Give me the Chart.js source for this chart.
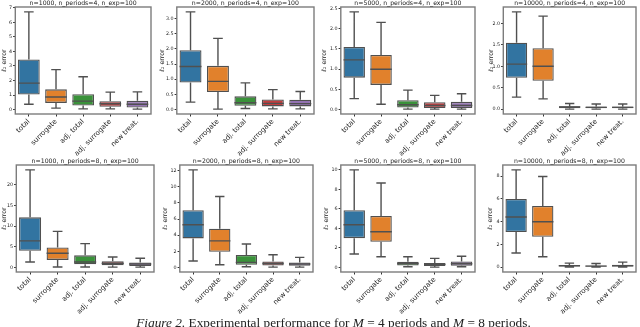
<!DOCTYPE html>
<html lang="en">
<head>
<meta charset="UTF-8">
<title>Experimental performance</title>
<style>
  * { margin: 0; padding: 0; box-sizing: border-box; }
  body { width: 640px; height: 327px; background: #fff; position: relative; overflow: hidden; }
  canvas { position: absolute; }
  #caption {
    position: absolute; left: 0; width: 667px; top: 315px;
    text-align: center; white-space: nowrap;
    font-family: 'Liberation Serif', serif; font-size: 13.3px; color: #222;
  }
</style>
</head>
<body>
<div id="panels"></div>
<div id="caption"><i>Figure 2.</i> Experimental performance for <i>M</i> = 4 periods and <i>M</i> = 8 periods.</div>
<script src="https://cdn.jsdelivr.net/npm/chart.js@4.4.0/dist/chart.umd.min.js"></script>
<script>
const categories = ["total", "surrogate", "adj. total", "adj. surrogate", "new treat."];
const panelTitles = [
  "n=1000, n_periods=4, n_exp=100", "n=2000, n_periods=4, n_exp=100",
  "n=5000, n_periods=4, n_exp=100", "n=10000, n_periods=4, n_exp=100",
  "n=1000, n_periods=8, n_exp=100", "n=2000, n_periods=8, n_exp=100",
  "n=5000, n_periods=8, n_exp=100", "n=10000, n_periods=8, n_exp=100"
];

// box statistics, one row per panel, one column per category
const whiskerLow = [
  [0.37, 0.10, 0.05, 0.05, 0.03],
  [0.25, 0.02, 0.04, 0.03, 0.03],
  [0.27, 0.13, 0.01, 0.01, 0.01],
  [0.28, 0.24, 0.00, 0.00, 0.00],
  [1.3, 0.1, 0.1, 0.05, 0.05],
  [0.8, 0.33, 0.08, 0.04, 0.04],
  [1.38, 1.1, 0.07, 0.03, 0.07],
  [1.24, 0.91, 0.0, 0.0, 0.0]
];
const q1 = [
  [1.04, 0.46, 0.28, 0.19, 0.14],
  [0.89, 0.58, 0.13, 0.11, 0.11],
  [0.79, 0.61, 0.05, 0.04, 0.04],
  [0.73, 0.66, 0.02, 0.02, 0.02],
  [4.0, 1.8, 0.73, 0.5, 0.3],
  [3.6, 1.95, 0.33, 0.25, 0.2],
  [3.0, 2.62, 0.2, 0.14, 0.17],
  [3.09, 2.68, 0.06, 0.05, 0.06]
];
const median = [
  [1.82, 0.86, 0.58, 0.40, 0.37],
  [1.42, 0.93, 0.23, 0.21, 0.20],
  [1.23, 1.00, 0.12, 0.10, 0.10],
  [1.05, 1.00, 0.05, 0.04, 0.04],
  [6.4, 3.4, 1.3, 0.97, 0.8],
  [5.3, 3.3, 0.63, 0.5, 0.42],
  [4.38, 3.66, 0.41, 0.31, 0.38],
  [4.41, 4.0, 0.12, 0.09, 0.12]
];
const q3 = [
  [3.44, 1.39, 1.06, 0.58, 0.60],
  [1.95, 1.44, 0.44, 0.34, 0.33],
  [1.55, 1.35, 0.23, 0.18, 0.19],
  [1.55, 1.42, 0.07, 0.06, 0.06],
  [12.1, 4.8, 2.9, 1.45, 1.2],
  [7.1, 4.8, 1.55, 0.75, 0.63],
  [5.86, 5.28, 0.59, 0.45, 0.62],
  [6.0, 5.38, 0.18, 0.15, 0.2]
];
const whiskerHigh = [
  [6.72, 2.75, 2.26, 1.20, 1.22],
  [3.21, 2.34, 0.88, 0.66, 0.60],
  [2.42, 2.16, 0.48, 0.35, 0.39],
  [2.27, 2.17, 0.13, 0.12, 0.12],
  [23.6, 8.7, 5.75, 2.5, 2.2],
  [12.1, 8.8, 2.9, 1.58, 1.25],
  [10.0, 8.66, 1.1, 0.93, 1.14],
  [8.56, 7.97, 0.35, 0.32, 0.44]
];
const yTickStep = [1, 0.5, 0.5, 0.5, 5, 2, 2, 2];
const yTickDecimals = [0, 1, 1, 1, 0, 0, 0, 0];

const boxColors = ["#3274a1", "#e1812c", "#3a923a", "#c03d3e", "#9372b2"];
const lineColor = "#505050";

// plot area of each panel on the page: y label centre, left, right, top, bottom
const frames = [
  [4.5, 15, 151, 7, 114], [163, 177, 314, 7, 114], [325, 341, 475, 7, 114], [491.5, 503, 636, 7, 114],
  [4.5, 16, 154, 165, 272], [166, 180, 313, 165, 272], [327, 341, 475, 165, 272], [491, 503, 636, 165, 272]
];

Chart.defaults.font.family = "'DejaVu Sans', sans-serif";
Chart.defaults.color = "#222";

function boxPlugin(k) {
  return {
    id: "boxWhiskers" + k,
    afterDatasetsDraw(chart) {
      const ctx = chart.ctx, y = chart.scales.y;
      const bars = chart.getDatasetMeta(0).data;
      ctx.save();
      ctx.strokeStyle = lineColor;
      ctx.lineWidth = 1.4;
      ctx.beginPath();
      bars.forEach((bar, i) => {
        const x = bar.x, half = bar.width / 2, cap = bar.width * 0.22;
        const yLo = y.getPixelForValue(whiskerLow[k][i]);
        const yQ1 = y.getPixelForValue(q1[k][i]);
        const yMed = y.getPixelForValue(median[k][i]);
        const yQ3 = y.getPixelForValue(q3[k][i]);
        const yHi = y.getPixelForValue(whiskerHigh[k][i]);
        ctx.moveTo(x, yQ1); ctx.lineTo(x, yLo);
        ctx.moveTo(x - cap, yLo); ctx.lineTo(x + cap, yLo);
        ctx.moveTo(x, yQ3); ctx.lineTo(x, yHi);
        ctx.moveTo(x - cap, yHi); ctx.lineTo(x + cap, yHi);
        ctx.moveTo(x - half, yMed); ctx.lineTo(x + half, yMed);
      });
      ctx.stroke();
      const a = chart.chartArea;
      ctx.strokeStyle = "#7c7c7c";
      ctx.lineWidth = 1.4;
      ctx.strokeRect(a.left, a.top, a.right - a.left, a.bottom - a.top);
      ctx.fillStyle = "#222";
      ctx.font = "6.2px 'DejaVu Sans'";
      ctx.textAlign = "center";
      ctx.textBaseline = "middle";
      ctx.fillText(panelTitles[k], (a.left + a.right) / 2, a.top - 4);
      ctx.restore();
    }
  };
}

const holder = document.getElementById("panels");
frames.forEach((f, k) => {
  const [labelX, left, right, top, bottom] = f;
  const axisW = left - labelX + 3.8;
  const padTop = 9, padRight = 4, axisH = 46;
  const canvas = document.createElement("canvas");
  const cLeft = left - axisW, cTop = top - padTop;
  canvas.width = Math.round(right + padRight - cLeft);
  canvas.height = Math.round(bottom + axisH - cTop);
  canvas.style.left = cLeft + "px";
  canvas.style.top = cTop + "px";
  holder.appendChild(canvas);

  const lo = Math.min(...whiskerLow[k]), hi = Math.max(...whiskerHigh[k]);
  const pad = (hi - lo) * 0.05;

  new Chart(canvas, {
    type: "bar",
    data: {
      labels: categories,
      datasets: [{
        data: q1[k].map((v, i) => [v, q3[k][i]]),
        backgroundColor: boxColors,
        borderColor: lineColor,
        borderWidth: 1.3,
        borderSkipped: false,
        barPercentage: 0.8,
        categoryPercentage: 1.0
      }]
    },
    plugins: [boxPlugin(k)],
    options: {
      responsive: false,
      animation: false,
      layout: { padding: { left: 0, top: padTop, right: padRight, bottom: 0 } },
      plugins: { legend: { display: false }, tooltip: { enabled: false } },
      scales: {
        x: {
          offset: true,
          grid: { drawOnChartArea: false, offset: false, tickLength: 2.5, color: "#333" },
          border: { display: false },
          ticks: { minRotation: 45, maxRotation: 45, padding: 1, autoSkip: false, font: { size: 7 } },
          afterFit: s => { s.height = axisH; }
        },
        y: {
          min: lo - pad,
          max: hi + pad,
          grid: { drawOnChartArea: false, tickLength: 2.2, color: "#333" },
          border: { display: false },
          ticks: {
            stepSize: yTickStep[k],
            includeBounds: false,
            padding: 1,
            font: { size: 4.8 },
            callback: v => v.toFixed(yTickDecimals[k])
          },
          title: { display: true, text: "ℓ₂ error", font: { size: 6.3 }, padding: 0 },
          afterFit: s => { s.width = axisW; }
        }
      }
    }
  });
});
</script>
</body>
</html>
